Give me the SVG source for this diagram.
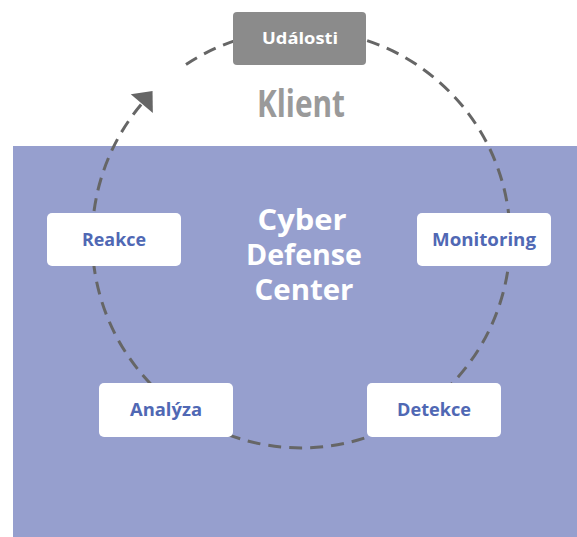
<svg xmlns="http://www.w3.org/2000/svg" width="577" height="537" viewBox="0 0 577 537">
  <defs>
    <style>
      .box { fill: #ffffff; }
      .lbl { font-family: "Open Sans", "Liberation Sans", sans-serif; font-weight: bold; font-size: 18px; fill: #5068b4; text-anchor: middle; }
      .cdc { font-family: "Open Sans", "Liberation Sans", sans-serif; font-weight: bold; font-size: 29px; fill: #ffffff; text-anchor: middle; }
      .cycle { fill: none; stroke: #666666; stroke-width: 3; stroke-dasharray: 13 8; }
    </style>
    <marker id="arrow" markerUnits="userSpaceOnUse" markerWidth="20" markerHeight="30" viewBox="0 -14 16 28" refX="0" refY="0" orient="auto">
      <path d="M0,-13.5 L15.5,0 L0,13.5 Z" fill="#666666"/>
    </marker>
  </defs>

  <!-- SOC area -->
  <rect id="soc-area" x="13" y="146" width="564" height="391" fill="#969fce"/>

  <g id="klient-label">
    <text x="301" y="117" font-family="'Open Sans', 'Liberation Sans', sans-serif" font-weight="bold" font-size="37" fill="#9a9a9a" text-anchor="middle" textLength="88" lengthAdjust="spacingAndGlyphs">Klient</text>
  </g>

  <!-- cycle connector -->
  <g id="connectors">
    <path class="cycle" d="M186,64.5 A209,209 0 1 1 141.8,103.7" marker-end="url(#arrow)"/>
  </g>

  <g id="cdc-title">
    <text class="cdc" x="302" y="230" textLength="89" lengthAdjust="spacingAndGlyphs">Cyber</text>
    <text class="cdc" x="304" y="265" textLength="116" lengthAdjust="spacingAndGlyphs">Defense</text>
    <text class="cdc" x="304" y="300" textLength="99" lengthAdjust="spacingAndGlyphs">Center</text>
  </g>

  <g id="udalosti">
    <rect x="233" y="12" width="133" height="53" rx="4" fill="#8b8b8b"/>
    <text x="300" y="44" font-family="'Open Sans', 'Liberation Sans', sans-serif" font-weight="bold" font-size="16" fill="#ffffff" text-anchor="middle" textLength="76" lengthAdjust="spacingAndGlyphs">Události</text>
  </g>

  <g id="monitoring">
    <rect class="box" x="417" y="213" width="134" height="53" rx="5"/>
    <text class="lbl" x="484" y="246" textLength="104" lengthAdjust="spacingAndGlyphs">Monitoring</text>
  </g>

  <g id="detekce">
    <rect class="box" x="367" y="383" width="134" height="54" rx="5"/>
    <text class="lbl" x="434" y="416" textLength="74" lengthAdjust="spacingAndGlyphs">Detekce</text>
  </g>

  <g id="analyza">
    <rect class="box" x="99" y="383" width="134" height="54" rx="5"/>
    <text class="lbl" x="166" y="416" textLength="72" lengthAdjust="spacingAndGlyphs">Analýza</text>
  </g>

  <g id="reakce">
    <rect class="box" x="47" y="213" width="134" height="53" rx="5"/>
    <text class="lbl" x="114" y="246" textLength="64" lengthAdjust="spacingAndGlyphs">Reakce</text>
  </g>
</svg>
